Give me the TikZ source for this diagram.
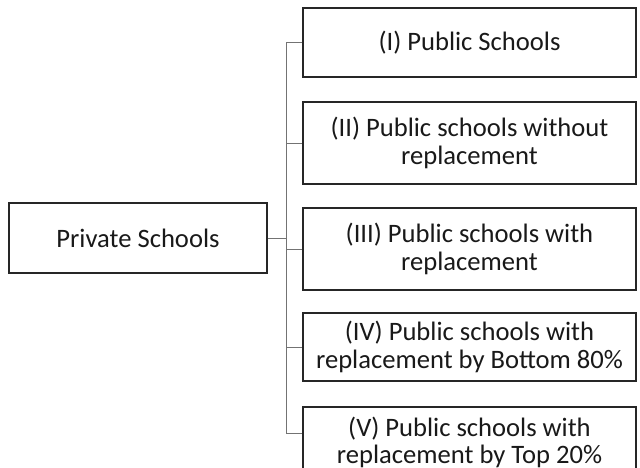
\documentclass[tikz,border=0pt]{standalone}
\usepackage{fontspec}
\setmainfont{Carlito}
\begin{document}
\begin{tikzpicture}[x=0.5pt,y=-0.5pt,
  box/.style={draw=black!85,line width=0.7pt,fill=white,inner sep=0pt,
    minimum width=166.5pt,align=center,text=black!90,
    font=\fontsize{13.3}{13.6}\selectfont},
  pbox/.style={box,minimum width=129pt,minimum height=35pt},
  conn/.style={draw=black!55,line width=0.5pt}]
\useasboundingbox (0,0) rectangle (640,467);
\clip (0,0) rectangle (640,467);
\fill[white] (0,0) rectangle (640,467);
\node[pbox] (P) at (138,238) {Private Schools};
\node[box,minimum height=34.5pt] (A) at (469.5,42.5) {(I) Public Schools};
\node[box,minimum height=41pt] (B) at (469.5,143) {(II) Public schools without\\replacement};
\node[box,minimum height=41pt] (C) at (469.5,249) {(III) Public schools with\\replacement};
\node[box,minimum height=34pt] (D) at (469.5,347) {(IV) Public schools with\\replacement by Bottom 80\%};
\node[box,minimum height=35pt] (E) at (469.5,442) {(V) Public schools with\\replacement by Top 20\%};
\coordinate (T) at (286,238);
\coordinate (TE) at (286,433);
\draw[conn] (P.east) -- (T);
\draw[conn] (A.west) -- (A.west -| T) -- (TE) -- ([yshift=4.5pt]E.west);
\draw[conn] (T |- B.west) -- (B.west);
\draw[conn] (T |- C.west) -- (C.west);
\draw[conn] (T |- D.west) -- (D.west);
\end{tikzpicture}
\end{document}
